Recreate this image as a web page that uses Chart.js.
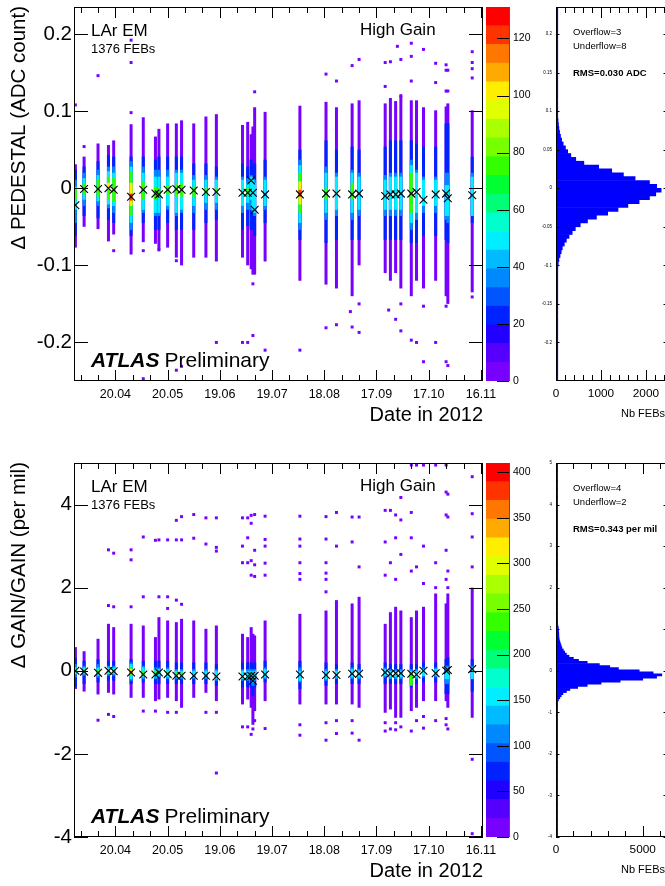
<!DOCTYPE html>
<html>
<head>
<meta charset="utf-8">
<title>LAr EM pedestal and gain stability 2012</title>
<script src="https://cdn.jsdelivr.net/npm/chart.js@4.4.1/dist/chart.umd.min.js"></script>
<style>
  html, body { margin: 0; padding: 0; background: #fff; overflow: hidden; }
  #page { position: relative; width: 665px; height: 886px; overflow: hidden; background: #fff; }
  canvas { position: absolute; }
</style>
</head>
<body>
<div id="page">
  <canvas id="pedHist" width="150" height="430" style="left:520px;top:0"></canvas>
  <canvas id="pedZ" width="52" height="430" style="left:484px;top:0"></canvas>
  <canvas id="pedMain" width="500" height="430" style="left:0;top:0"></canvas>
  <canvas id="gainHist" width="150" height="430" style="left:520px;top:456px"></canvas>
  <canvas id="gainZ" width="52" height="430" style="left:484px;top:456px"></canvas>
  <canvas id="gainMain" width="500" height="430" style="left:0;top:456px"></canvas>
</div>
<script>
// --- data: calibration runs (day of year 2012) ---
const colDays = [88, 93, 101, 107, 110, 120, 127, 134, 136, 141, 146, 149, 156, 163, 169, 184, 187, 189, 190, 191,
                 197, 217, 232, 238, 247, 251, 266, 269, 272, 275, 281, 284, 288, 295, 301, 302, 316];

const dateTickDays = [111, 141, 171, 201, 231, 261, 291, 321];
const dateTickLabels = ['20.04', '20.05', '19.06', '19.07', '18.08', '17.09', '17.10', '16.11'];

// ROOT rainbow palette, 20 bands, bottom to top
const palette = ['#7700ff', '#5500ff', '#2200ff', '#0022ff', '#0055ff', '#0088ff', '#00bbff', '#00eeff', '#00ffcc', '#00ff77',
                 '#00ff33', '#33ff00', '#77ff00', '#aaff00', '#e0ff00', '#ffee00', '#ffaa00', '#ff7700', '#ff3300', '#ff0000'];

// --- top: pedestal (ADC count) ---
const pedMean = [-0.022, -0.001, -0.001, 0.000, -0.002, -0.011, -0.002, -0.007, -0.008, -0.002, -0.001, -0.002, -0.003,
                 -0.005, -0.005, -0.006, -0.006, 0.010, -0.006, -0.028, -0.008, -0.008, -0.007, -0.007, -0.008, -0.007,
                 -0.010, -0.008, -0.008, -0.007, -0.007, -0.005, -0.015, -0.008, -0.007, -0.013, -0.009];
const pedRange = [[-0.077,0.031],[-0.050,0.041],[-0.053,0.058],[-0.069,0.056],[-0.060,0.062],
  [-0.086,0.083],[-0.070,0.092],[-0.072,0.067],[-0.080,0.077],[-0.077,0.084],
  [-0.090,0.084],[-0.100,0.088],[-0.090,0.084],[-0.090,0.093],[-0.095,0.096],
  [-0.090,0.082],[-0.100,0.086],[-0.105,0.070],[-0.112,0.080],[-0.112,0.105],
  [-0.095,0.099],[-0.120,0.107],[-0.125,0.112],[-0.130,0.105],[-0.140,0.110],
  [-0.100,0.114],[-0.110,0.110],[-0.120,0.117],[-0.110,0.113],[-0.130,0.120],
  [-0.140,0.114],[-0.120,0.114],[-0.130,0.105],[-0.120,0.101],[-0.140,0.106],
  [-0.150,0.110],[-0.135,0.101]];
const pedBlue = [[-0.062,0.024],[-0.036,0.028],[-0.039,0.035],[-0.041,0.043],[-0.045,0.041],
  [-0.062,0.041],[-0.045,0.041],[-0.054,0.037],[-0.054,0.041],[-0.045,0.041],
  [-0.054,0.041],[-0.054,0.041],[-0.054,0.032],[-0.045,0.032],[-0.041,0.028],
  [-0.054,0.032],[-0.049,0.028],[-0.054,0.037],[-0.054,0.028],[-0.062,0.032],
  [-0.045,0.037],[-0.067,0.050],[-0.071,0.062],[-0.067,0.050],[-0.067,0.054],
  [-0.067,0.050],[-0.067,0.054],[-0.067,0.062],[-0.067,0.062],[-0.067,0.062],
  [-0.071,0.062],[-0.071,0.058],[-0.062,0.054],[-0.062,0.054],[-0.067,0.084],
  [-0.071,0.084],[-0.045,0.041]];
const pedAzure = [[-0.045,0.011],[-0.023,0.020],[-0.023,0.024],[-0.026,0.028],[-0.032,0.028],
  [-0.054,0.035],[-0.032,0.028],[-0.036,0.024],[-0.036,0.024],[-0.028,0.024],
  [-0.036,0.024],[-0.032,0.024],[-0.032,0.017],[-0.028,0.017],[-0.028,0.015],
  [-0.032,0.015],[-0.028,0.013],[-0.028,0.017],[-0.032,0.013],[-0.036,0.011],
  [-0.028,0.015],[-0.054,0.037],[-0.041,0.028],[-0.036,0.020],[-0.041,0.024],
  [-0.036,0.020],[-0.036,0.017],[-0.036,0.020],[-0.036,0.020],[-0.036,0.020],
  [-0.054,0.037],[-0.041,0.024],[-0.032,0.015],[-0.032,0.015],[-0.041,0.020],
  [-0.045,0.020],[-0.036,0.020]];
const pedCyan = [[-0.028,0.002],[-0.015,0.013],[-0.017,0.017],[-0.021,0.022],[-0.023,0.020],
  [-0.045,0.028],[-0.028,0.020],[-0.032,0.015],[-0.032,0.015],[-0.023,0.015],
  [-0.032,0.020],[-0.028,0.020],[-0.023,0.011],[-0.019,0.011],[-0.019,0.011],
  [-0.023,0.011],[-0.019,0.007],[-0.015,0.015],[-0.028,0.011],[-0.032,0.007],
  [-0.023,0.011],[-0.045,0.030],[-0.032,0.020],[-0.028,0.015],[-0.032,0.020],
  [-0.028,0.015],[-0.028,0.011],[-0.028,0.015],[-0.028,0.015],[-0.028,0.015],
  [-0.045,0.030],[-0.032,0.020],[-0.023,0.011],[-0.023,0.011],[-0.036,0.004],
  [-0.036,0.004],[-0.036,0.015]];
const pedGreen = [[-0.015,-0.002],[-0.008,0.007],[-0.011,0.011],[-0.015,0.015],[-0.017,0.013],
  [-0.036,0.022],[-0.015,0.009],[-0.015,0.002],[-0.013,0.000],[-0.008,0.004],
  [-0.011,0.007],[-0.011,0.007],[-0.011,0.002],[-0.008,0.000],[-0.008,0.000],
  null,[-0.008,0.000],null,null,null,
  null,[-0.032,0.020],[-0.015,0.000],null,[-0.015,0.007],
  null,null,null,null,null,
  [-0.032,0.020],null,null,null,null,
  null,null];
const pedYellowCols = [3, 5, 21];
const pedYellow = [[-0.002,0.007],[-0.023,0.007],[-0.021,0.009]];
const pedRedCols = [5, 21];
const pedRed = [[-0.016,-0.007],[-0.011,-0.002]];
const pedDots = [[88,0.108],[93,0.054],[101,0.146],[120,0.192],[120,0.163],[120,0.098],[191,0.125],[232,0.148],
  [238,0.139],[247,0.159],[251,0.167],[266,0.163],[266,0.132],[269,0.164],[273,0.184],[275,0.167],[275,0.120],
  [281,0.188],[281,0.171],[281,0.139],[288,0.180],[295,0.162],[295,0.137],[301,0.160],[301,0.153],[302,0.153],
  [301,0.126],[302,0.126],[316,0.177],[316,0.163],[316,0.155],[316,0.143],
  [110,-0.081],[127,-0.081],[136,-0.080],[146,-0.094],[190,-0.124],[190,-0.191],[184,-0.200],[187,-0.200],
  [169,-0.200],[197,-0.210],[217,-0.210],[127,-0.247],[146,-0.236],[149,-0.231],[232,-0.181],[238,-0.177],
  [246,-0.160],[247,-0.180],[251,-0.187],[251,-0.150],[268,-0.158],[272,-0.170],[275,-0.150],[275,-0.185],
  [281,-0.197],[284,-0.200],[288,-0.153],[288,-0.225],[295,-0.200],[301,-0.225],[302,-0.230],[301,-0.153],
  [316,-0.141]];
const pedYTicks = [-0.2, -0.1, 0, 0.1, 0.2];
const pedYLabels = ['-0.2', '-0.1', '0', '0.1', '0.2'];
const pedZMax = 131;
const pedZTicks = [0, 20, 40, 60, 80, 100, 120];
// projection: bins of 0.005 from -0.12
const pedHistStart = -0.12, pedHistBin = 0.005;
const pedHistCounts = [20, 25, 30, 40, 50, 65, 90, 115, 140, 185, 230, 290, 360, 430, 540, 700, 900, 1150, 1380, 1600,
  1850, 2080, 2220, 2340, 2240, 2080, 1760, 1500, 1240, 950, 620, 440, 330, 260, 210, 160, 125, 100, 80, 65,
  55, 45, 35, 30, 25, 15, 12, 10];
const pedHistTail = 30;
const pedHistYTicks = [-0.2, -0.15, -0.1, -0.05, 0, 0.05, 0.1, 0.15, 0.2];
const pedHistYLabels = ['-0.2', '-0.15', '-0.1', '-0.05', '0', '0.05', '0.1', '0.15', '0.2'];
const pedHistXTicks = [0, 1000, 2000];

// --- bottom: gain (per mil) ---
const gainMean = [0.00, -0.02, -0.05, 0.00, -0.01, -0.04, -0.09, -0.09, -0.04, -0.08, -0.12, -0.12, -0.12, -0.12, -0.14,
  -0.14, -0.14, -0.12, -0.24, -0.12, -0.09, -0.09, -0.10, -0.10, -0.07, -0.07, -0.04, -0.07, -0.06, -0.06, -0.07,
  -0.09, 0.00, -0.06, 0.00, 0.02, 0.04];
const gainRange = [[-0.44,0.57],[-0.50,0.47],[-0.57,0.77],[-0.53,1.13],[-0.57,1.05],
  [-0.65,1.13],[-0.65,1.09],[-0.73,0.81],[-0.69,1.29],[-0.65,1.21],
  [-0.73,1.17],[-0.89,1.25],[-0.65,1.21],[-0.53,1.01],[-0.73,1.09],
  [-0.81,0.89],[-0.69,0.81],[-0.89,1.05],[-1.30,0.89],[-0.97,0.85],
  [-0.73,1.21],[-0.81,1.37],[-0.81,1.45],[-0.81,1.70],[-0.81,1.62],
  [-0.89,1.78],[-1.01,1.13],[-0.93,1.41],[-1.13,1.54],[-1.13,1.45],
  [-0.97,1.29],[-0.89,1.45],[-0.73,1.54],[-0.73,1.86],[-0.73,1.62],
  [-0.89,1.86],[-1.13,2.00]];
const gainBlue = [[-0.40,0.32],[-0.32,0.24],[-0.28,0.28],[-0.24,0.24],[-0.24,0.24],
  [-0.32,0.28],[-0.28,0.24],[-0.32,0.24],[-0.32,0.24],[-0.32,0.24],
  [-0.32,0.20],[-0.32,0.20],[-0.32,0.20],[-0.32,0.20],[-0.36,0.16],
  [-0.40,0.20],[-0.40,0.20],[-0.40,0.20],[-0.60,0.16],[-0.40,0.20],
  [-0.28,0.24],[-0.44,0.24],[-0.36,0.20],[-0.32,0.16],[-0.32,0.20],
  [-0.32,0.16],[-0.32,0.20],[-0.32,0.16],[-0.32,0.16],[-0.32,0.16],
  [-0.40,0.16],[-0.32,0.16],[-0.28,0.20],[-0.28,0.20],[-0.56,0.28],
  [-0.56,0.32],[-0.50,0.28]];
const gainAzure = [[-0.16,0.16],[-0.12,0.12],[-0.16,0.16],[-0.12,0.12],[-0.12,0.12],
  [-0.24,0.20],[-0.20,0.12],[-0.20,0.08],[-0.16,0.08],[-0.20,0.08],
  [-0.20,0.04],[-0.20,0.04],[-0.20,0.04],[-0.20,0.04],[-0.24,0.04],
  [-0.24,0.04],[-0.24,0.04],[-0.20,0.04],[-0.36,0.00],[-0.24,0.04],
  [-0.20,0.08],[-0.28,0.08],[-0.24,0.04],[-0.20,0.04],[-0.20,0.08],
  [-0.20,0.04],[-0.16,0.08],[-0.20,0.04],[-0.20,0.04],[-0.20,0.04],
  [-0.28,0.04],[-0.20,0.04],[-0.16,0.08],[-0.16,0.08],[-0.32,0.12],
  [-0.32,0.12],[-0.20,0.12]];
const gainCyan = [[-0.08,0.08],[-0.08,0.08],[-0.12,0.08],[-0.08,0.08],[-0.08,0.08],
  [-0.20,0.16],[-0.16,0.08],[-0.16,0.04],[-0.12,0.04],[-0.16,0.04],
  [-0.16,0.00],[-0.16,0.00],[-0.16,0.00],[-0.16,0.00],[-0.20,0.00],
  [-0.20,0.00],[-0.20,0.00],[-0.16,0.00],[-0.28,-0.04],[-0.20,0.00],
  [-0.16,0.04],[-0.24,0.00],[-0.20,0.00],[-0.16,0.00],[-0.16,0.04],
  [-0.16,0.00],[-0.12,0.04],[-0.16,0.00],[-0.16,0.00],[-0.16,0.00],
  [-0.24,0.00],[-0.16,0.00],[-0.12,0.04],[-0.12,0.04],[-0.20,0.04],
  [-0.20,0.08],[-0.20,0.08]];
const gainGreen = [[-0.04,0.04],[-0.04,0.02],[-0.08,0.04],[-0.04,0.04],[-0.04,0.04],
  [-0.12,0.08],[-0.12,0.00],[-0.08,0.00],[-0.08,0.00],[-0.08,0.00],
  [-0.12,-0.04],[-0.12,-0.04],null,null,null,
  null,null,null,null,null,
  null,null,null,null,null,
  null,null,null,null,null,
  [-0.36,-0.04],null,null,null,null,
  null,null];
const gainYellowCols = [5];
const gainYellow = [[-0.08,0.04]];
const gainRedCols = [5];
const gainRed = [[-0.06,0.00]];
const gainDots = [[107,2.91],[110,2.83],[120,2.91],[120,2.67],[127,3.22],[127,1.78],[134,3.14],[136,3.15],[136,1.78],
  [141,3.15],[141,1.78],[146,3.62],[149,3.71],[146,3.15],[149,3.15],[156,3.76],[156,3.19],[163,3.68],[163,3.05],
  [169,3.68],[169,2.97],[169,2.88],[184,3.68],[187,3.68],[189,3.74],[191,3.76],[189,3.55],[184,3.0],[187,3.2],
  [191,2.9],[184,2.6],[187,2.6],[189,2.65],[191,2.55],[189,2.3],[191,2.27],[197,3.72],[197,3.16],[197,3.0],
  [197,2.59],[197,2.3],[217,3.72],[217,3.17],[217,3.0],[217,2.6],[217,2.34],[217,2.2],[232,3.71],[232,3.17],
  [232,2.6],[232,2.35],[232,2.2],[232,1.9],[238,3.81],[238,3.0],[247,3.7],[247,3.1],[251,3.7],[251,2.5],
  [266,3.86],[269,3.86],[272,3.75],[275,3.63],[275,4.17],[281,4.95],[281,3.81],[284,4.95],[288,4.95],[295,4.95],
  [301,4.95],[301,4.3],[302,4.25],[301,3.75],[302,3.7],[316,4.67],[316,3.78],[316,3.22],[266,3.1],[269,2.6],
  [272,3.2],[275,2.8],[281,3.2],[284,2.5],[288,3.0],[295,2.6],[301,2.9],[302,2.4],[316,2.5],[266,2.3],[272,2.2],
  [281,2.4],[288,2.1],[295,2.0],[301,2.2],[302,2.0],[107,1.57],[110,1.54],[120,1.54],[141,1.50],[146,1.70],
  [149,1.60],
  [101,-1.19],[107,-1.05],[110,-1.10],[127,-0.97],[134,-0.97],[141,-1.0],[146,-1.0],[163,-1.0],[169,-1.0],
  [169,-2.46],[184,-1.35],[187,-1.35],[189,-1.53],[190,-1.40],[191,-1.20],[197,-1.39],[217,-1.55],[232,-1.67],
  [238,-1.51],[247,-1.50],[251,-1.67],[266,-1.45],[269,-1.40],[272,-1.42],[275,-1.35],[281,-1.45],[288,-1.38],
  [295,-1.20],[301,-1.30],[302,-1.40],[316,-2.13],[316,-3.92],[217,-1.3],[232,-1.25],[238,-1.2],[247,-1.2],
  [266,-1.25],[272,-1.25],[284,-1.2],[288,-1.1],[301,-1.15]];
const gainYTicks = [-4, -2, 0, 2, 4];
const gainYLabels = ['-4', '-2', '0', '2', '4'];
const gainZMax = 410;
const gainZTicks = [0, 50, 100, 150, 200, 250, 300, 350, 400];
// projection: bins of 0.05 from -0.825
const gainHistStart = -0.825, gainHistBin = 0.05;
const gainHistCounts = [50, 90, 140, 220, 300, 400, 600, 800, 1250, 1800, 2600, 3700, 5000, 5800, 6100, 5600, 4800,
  3600, 3100, 2500, 1800, 1300, 1000, 750, 600, 500, 420, 340, 300, 260, 220, 190, 170, 165, 160, 150, 140, 130,
  100, 80, 70, 60];
const gainHistTail = 70;
const gainHistYTicks = [-4, -3, -2, -1, 0, 1, 2, 3, 4, 5];
const gainHistXTicks = [0, 5000];

// --- drawing ---
Chart.defaults.font.family = "'Liberation Sans', Arial, Helvetica, sans-serif";
Chart.defaults.color = '#000';
const FONT = "'Liberation Sans', Arial, sans-serif";

function steps(from, to, step) {
  const out = [];
  for (let v = from; v <= to + step / 1000; v += step) out.push(Math.round(v * 1e6) / 1e6);
  return out;
}
const dateMinorDays = steps(91, 321, 10);

// ROOT-like frame, inward tick marks and free text
function decor(spec) {
  return {
    id: 'decor',
    afterDraw(chart) {
      const { ctx, chartArea: a, scales } = chart;
      ctx.save();
      ctx.lineWidth = 1;
      if (spec.frame) {
        ctx.strokeStyle = '#000';
        ctx.strokeRect(a.left + 0.5, a.top + 0.5, a.right - a.left - 1, a.bottom - a.top - 1);
      }
      if (spec.rightLine) {
        ctx.strokeStyle = spec.rightLine;
        ctx.beginPath();
        ctx.moveTo(a.right + 0.5, a.top);
        ctx.lineTo(a.right + 0.5, a.bottom);
        ctx.stroke();
      }
      ctx.strokeStyle = '#000';
      (spec.marks || []).forEach(m => {
        const s = scales[m.axis];
        ctx.beginPath();
        m.values.forEach(v => {
          const p = Math.round(s.getPixelForValue(v)) + 0.5;
          m.sides.forEach(side => {
            if (side === 'bottom') { ctx.moveTo(p, a.bottom); ctx.lineTo(p, a.bottom - m.len); }
            if (side === 'top') { ctx.moveTo(p, a.top); ctx.lineTo(p, a.top + m.len); }
            if (side === 'left') { ctx.moveTo(a.left, p); ctx.lineTo(a.left + m.len, p); }
            if (side === 'right') { ctx.moveTo(a.right, p); ctx.lineTo(a.right - m.len, p); }
          });
        });
        ctx.stroke();
      });
      (spec.texts || []).forEach(t => {
        ctx.fillStyle = '#000';
        ctx.font = t.font;
        ctx.textAlign = t.align || 'left';
        ctx.textBaseline = t.baseline || 'alphabetic';
        if (t.rotate) {
          ctx.save();
          ctx.translate(t.x, t.y);
          ctx.rotate(-Math.PI / 2);
          ctx.fillText(t.text, 0, 0);
          ctx.restore();
        } else {
          ctx.fillText(t.text, t.x, t.y);
        }
      });
      ctx.restore();
    }
  };
}

function cells(ranges, color, order, cols) {
  const data = [];
  ranges.forEach((r, i) => { if (r) data.push({ x: colDays[cols ? cols[i] : i], y: r }); });
  return { type: 'bar', order, data, backgroundColor: color, borderWidth: 0, barThickness: 3,
           inflateAmount: 0, grouped: false };
}

function mainChart(id, p) {
  new Chart(document.getElementById(id), {
    type: 'bar',
    data: {
      datasets: [
        { type: 'scatter', order: 0, data: p.mean.map((m, i) => ({ x: colDays[i], y: m })),
          pointStyle: 'crossRot', pointRadius: 5.5, pointBorderColor: '#000', pointBorderWidth: 1.1,
          pointBackgroundColor: 'rgba(0,0,0,0)' },
        cells(p.red, palette[18], 1, p.redCols),
        cells(p.yellow, palette[15], 2, p.yellowCols),
        cells(p.green, palette[11], 3),
        cells(p.cyan, palette[7], 4),
        cells(p.azure, palette[5], 5),
        cells(p.blue, palette[3], 6),
        cells(p.range, palette[0], 7),
        { type: 'scatter', order: 8, data: p.dots.map(([x, y]) => ({ x, y })),
          pointStyle: 'rect', pointRadius: 2.1, pointBackgroundColor: palette[0], pointBorderWidth: 0 }
      ]
    },
    options: {
      responsive: false,
      animation: false,
      events: [],
      layout: { padding: { left: 0, top: 7, right: 17, bottom: 0 } },
      plugins: { legend: { display: false }, tooltip: { enabled: false } },
      scales: {
        x: {
          type: 'linear', min: 87.2, max: 322.2, offset: false,
          grid: { display: false, drawTicks: false }, border: { display: false },
          afterBuildTicks: s => { s.ticks = dateTickDays.map(v => ({ value: v })); },
          afterFit: s => { s.height = 49; s.paddingLeft = 0; s.paddingRight = 0; },
          ticks: { autoSkip: false, maxRotation: 0, minRotation: 0, padding: 6, font: { size: 12.5 },
                   callback: (v, i) => dateTickLabels[i] }
        },
        y: {
          type: 'linear', min: p.yMin, max: p.yMax,
          grid: { display: false, drawTicks: false }, border: { display: false },
          afterBuildTicks: s => { s.ticks = p.yTicks.map(v => ({ value: v })); },
          afterFit: s => { s.width = 74; s.paddingTop = 0; s.paddingBottom = 0; },
          ticks: { autoSkip: false, padding: 2, font: { size: 20.5 }, callback: (v, i) => p.yLabels[i] }
        }
      }
    },
    plugins: [decor({
      frame: true,
      marks: [
        { axis: 'x', values: dateMinorDays, len: 6, sides: ['top', 'bottom'] },
        { axis: 'x', values: dateTickDays, len: 11, sides: ['top', 'bottom'] },
        { axis: 'y', values: p.yTicks, len: 14, sides: ['left', 'right'] }
      ],
      texts: [
        { text: p.title, x: 19, y: 6, font: '20.5px ' + FONT, align: 'right', baseline: 'middle', rotate: true },
        { text: 'LAr EM', x: 91, y: 36, font: '17px ' + FONT },
        { text: '1376 FEBs', x: 91, y: 52.5, font: '13px ' + FONT },
        { text: 'High Gain', x: 360, y: 35, font: '17px ' + FONT },
        { text: 'ATLAS', x: 91, y: 367, font: 'italic bold 21px ' + FONT },
        { text: 'Preliminary', x: 164.5, y: 367, font: '21px ' + FONT },
        { text: 'Date in 2012', x: 483, y: 421, font: '20px ' + FONT, align: 'right' }
      ]
    })]
  });
}

function zChart(id, zMax, zTicks) {
  const band = zMax / palette.length;
  new Chart(document.getElementById(id), {
    type: 'bar',
    data: {
      labels: [''],
      datasets: palette.map(c => ({ data: [band], backgroundColor: c, borderWidth: 0,
                                    barPercentage: 1, categoryPercentage: 1 }))
    },
    options: {
      responsive: false,
      animation: false,
      events: [],
      layout: { padding: { left: 2, top: 7, right: 0, bottom: 49 } },
      plugins: { legend: { display: false }, tooltip: { enabled: false } },
      scales: {
        x: { stacked: true, display: false },
        y: {
          stacked: true, position: 'right', min: 0, max: zMax,
          grid: { display: false, drawTicks: false }, border: { display: false },
          afterBuildTicks: s => { s.ticks = zTicks.map(v => ({ value: v })); },
          afterFit: s => { s.width = 27; s.paddingTop = 0; s.paddingBottom = 0; },
          ticks: { autoSkip: false, padding: 4, font: { size: 10.5 }, callback: v => String(v) }
        }
      }
    },
    plugins: [decor({
      rightLine: '#555',
      marks: [{ axis: 'y', values: zTicks, len: 12, sides: ['right'] }]
    })]
  });
}

function histChart(id, p) {
  new Chart(document.getElementById(id), {
    type: 'bar',
    data: {
      datasets: [
        { type: 'scatter', indexAxis: 'x', order: 0, showLine: true,
          data: [{ x: p.tail, y: p.yMin }, { x: p.tail, y: p.yMax }],
          borderColor: '#0000ff', borderWidth: 1.5, pointRadius: 0 },
        { order: 1, data: p.counts.map((c, i) => ({ y: p.start + (i + 0.5) * p.bin, x: c })),
          backgroundColor: '#0000ff', borderWidth: 0, barPercentage: 1, categoryPercentage: 1 }
      ]
    },
    options: {
      indexAxis: 'y',
      responsive: false,
      animation: false,
      events: [],
      layout: { padding: { left: 0, top: 7, right: 3, bottom: 0 } },
      plugins: { legend: { display: false }, tooltip: { enabled: false } },
      scales: {
        y: {
          type: 'linear', position: 'left', min: p.yMin, max: p.yMax, offset: false,
          grid: { display: false, drawTicks: false }, border: { display: false },
          afterBuildTicks: s => { s.ticks = p.yTicks.map(v => ({ value: v })); },
          afterFit: s => { s.width = 36; s.paddingTop = 0; s.paddingBottom = 0; },
          ticks: { autoSkip: false, padding: 4, font: { size: 4.5 }, callback: (v, i) => p.yLabels[i] }
        },
        x: {
          type: 'linear', position: 'bottom', min: 0, max: p.xMax, offset: false,
          grid: { display: false, drawTicks: false }, border: { display: false },
          afterBuildTicks: s => { s.ticks = p.xTicks.map(v => ({ value: v })); },
          afterFit: s => { s.height = 49; s.paddingLeft = 0; s.paddingRight = 0; },
          ticks: { autoSkip: false, maxRotation: 0, minRotation: 0, padding: 6, font: { size: 11.8 },
                   callback: v => String(v) }
        }
      }
    },
    plugins: [decor({
      frame: true,
      marks: [
        { axis: 'x', values: p.xMinor, len: 6, sides: ['top', 'bottom'] },
        { axis: 'x', values: p.xTicks, len: 11, sides: ['top', 'bottom'] },
        { axis: 'y', values: p.yMinor, len: 1.5, sides: ['left'] },
        { axis: 'y', values: p.yTicks, len: 3.5, sides: ['left', 'right'] }
      ],
      texts: [
        { text: p.over, x: 53, y: 35, font: '9.5px ' + FONT },
        { text: p.under, x: 53, y: 48.5, font: '9.5px ' + FONT },
        { text: p.rms, x: 53, y: 75.5, font: 'bold 9.5px ' + FONT },
        { text: 'Nb FEBs', x: 145, y: 417, font: '11px ' + FONT, align: 'right' }
      ]
    })]
  });
}

mainChart('pedMain', {
  title: 'Δ PEDESTAL (ADC count)', yMin: -0.25, yMax: 0.235, yTicks: pedYTicks, yLabels: pedYLabels,
  mean: pedMean, range: pedRange, blue: pedBlue, azure: pedAzure, cyan: pedCyan, green: pedGreen,
  yellow: pedYellow, yellowCols: pedYellowCols, red: pedRed, redCols: pedRedCols, dots: pedDots
});
zChart('pedZ', pedZMax, pedZTicks);
histChart('pedHist', {
  yMin: -0.25, yMax: 0.235, yTicks: pedHistYTicks, yLabels: pedHistYLabels, yMinor: steps(-0.24, 0.23, 0.01),
  xMax: 2470, xTicks: pedHistXTicks, xMinor: steps(0, 2400, 200),
  start: pedHistStart, bin: pedHistBin, counts: pedHistCounts, tail: pedHistTail,
  over: 'Overflow=3', under: 'Underflow=8', rms: 'RMS=0.030 ADC'
});

mainChart('gainMain', {
  title: 'Δ GAIN/GAIN (per mil)', yMin: -4, yMax: 5, yTicks: gainYTicks, yLabels: gainYLabels,
  mean: gainMean, range: gainRange, blue: gainBlue, azure: gainAzure, cyan: gainCyan, green: gainGreen,
  yellow: gainYellow, yellowCols: gainYellowCols, red: gainRed, redCols: gainRedCols, dots: gainDots
});
zChart('gainZ', gainZMax, gainZTicks);
histChart('gainHist', {
  yMin: -4, yMax: 5, yTicks: gainHistYTicks, yLabels: gainHistYTicks.map(String), yMinor: steps(-4, 5, 0.2),
  xMax: 6400, xTicks: gainHistXTicks, xMinor: steps(0, 6000, 1000),
  start: gainHistStart, bin: gainHistBin, counts: gainHistCounts, tail: gainHistTail,
  over: 'Overflow=4', under: 'Underflow=2', rms: 'RMS=0.343 per mil'
});
</script>
</body>
</html>
